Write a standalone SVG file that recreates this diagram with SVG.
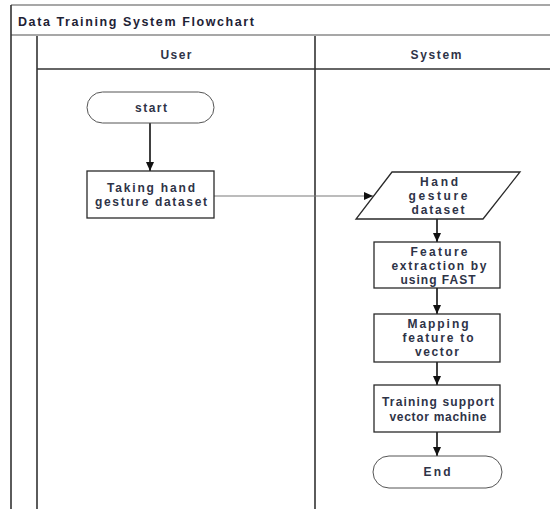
<svg xmlns="http://www.w3.org/2000/svg" width="550" height="509" viewBox="0 0 550 509">
<defs>
<style>
.frame{stroke:#8a8a8a;stroke-width:1.5;fill:none}
.lane{stroke:#333;stroke-width:1.6;fill:none}
.shape{fill:#fff;stroke:#2a2a2a;stroke-width:1.3}
.term{fill:#fff;stroke:#555;stroke-width:1}
.t{font-family:"Liberation Sans",Arial,sans-serif;font-size:12px;font-weight:bold;fill:#2e3347;text-anchor:middle;dominant-baseline:central}
.h{font-family:"Liberation Sans",Arial,sans-serif;font-size:12.5px;font-weight:bold;fill:#1e2235}
.arrow{stroke:#111;stroke-width:1.6;fill:none;marker-end:url(#ah)}
.arrowg{stroke:#7a7a7a;stroke-width:1.2;fill:none;marker-end:url(#ah)}
</style>
<marker id="ah" markerWidth="10" markerHeight="10" refX="9" refY="5" orient="auto" markerUnits="userSpaceOnUse">
<path d="M0,1 L9,5 L0,9 Z" fill="#111"/>
</marker>
</defs>
<rect width="550" height="509" fill="#fff"/>
<g id="pool">
<line class="frame" x1="11" y1="5" x2="550" y2="5"/>
<line class="frame" x1="11" y1="35" x2="550" y2="35"/>
<line class="lane" x1="11" y1="5" x2="11" y2="509"/>
<line class="lane" x1="37" y1="36" x2="37" y2="509"/>
<line class="lane" x1="315" y1="36" x2="315" y2="509"/>
<line class="lane" x1="37" y1="69" x2="550" y2="69"/>
<text class="h" x="18" y="22" dominant-baseline="central" textLength="236" lengthAdjust="spacing">Data Training System Flowchart</text>
<text class="t" x="176" y="55" textLength="31" lengthAdjust="spacing" fill="#1e2235">User</text>
<text class="t" x="436" y="55" textLength="51" lengthAdjust="spacing">System</text>
</g>
<g id="connectors">
<line class="arrow" x1="150" y1="123" x2="150" y2="171"/>
<line class="arrowg" x1="214" y1="196" x2="373" y2="196"/>
<line class="arrow" x1="437" y1="219" x2="437" y2="242"/>
<line class="arrow" x1="437" y1="288" x2="437" y2="314"/>
<line class="arrow" x1="437" y1="362" x2="437" y2="385"/>
<line class="arrow" x1="437" y1="432" x2="437" y2="456"/>
</g>
<g id="start">
<rect class="term" x="87" y="92" width="127" height="31" rx="15.5"/>
<text class="t" x="151" y="108" textLength="32" lengthAdjust="spacing">start</text>
</g>
<g id="taking">
<rect class="shape" x="87" y="171" width="127" height="47"/>
<text class="t" x="151" y="188" textLength="88" lengthAdjust="spacing">Taking hand</text>
<text class="t" x="151" y="202" textLength="112" lengthAdjust="spacing">gesture dataset</text>
</g>
<g id="dataset">
<polygon class="shape" points="392,172 520,172 483,219 356,219"/>
<text class="t" x="439" y="182" textLength="38" lengthAdjust="spacing">Hand</text>
<text class="t" x="438" y="196" textLength="59" lengthAdjust="spacing">gesture</text>
<text class="t" x="438" y="210" textLength="53" lengthAdjust="spacing">dataset</text>
</g>
<g id="feature">
<rect class="shape" x="374" y="242" width="126" height="46"/>
<text class="t" x="439" y="252" textLength="57" lengthAdjust="spacing">Feature</text>
<text class="t" x="439" y="266" textLength="95" lengthAdjust="spacing">extraction by</text>
<text class="t" x="438" y="280" textLength="75" lengthAdjust="spacing">using FAST</text>
</g>
<g id="mapping">
<rect class="shape" x="374" y="314" width="126" height="48"/>
<text class="t" x="438" y="324" textLength="61" lengthAdjust="spacing">Mapping</text>
<text class="t" x="438" y="338" textLength="71" lengthAdjust="spacing">feature to</text>
<text class="t" x="437" y="352" textLength="44" lengthAdjust="spacing">vector</text>
</g>
<g id="training">
<rect class="shape" x="374" y="385" width="126" height="47"/>
<text class="t" x="438" y="402" textLength="112" lengthAdjust="spacing">Training support</text>
<text class="t" x="438" y="417" textLength="97" lengthAdjust="spacing">vector machine</text>
</g>
<g id="end">
<rect class="term" x="373" y="456" width="129" height="32" rx="16"/>
<text class="t" x="437" y="472" textLength="27" lengthAdjust="spacing">End</text>
</g>
</svg>
